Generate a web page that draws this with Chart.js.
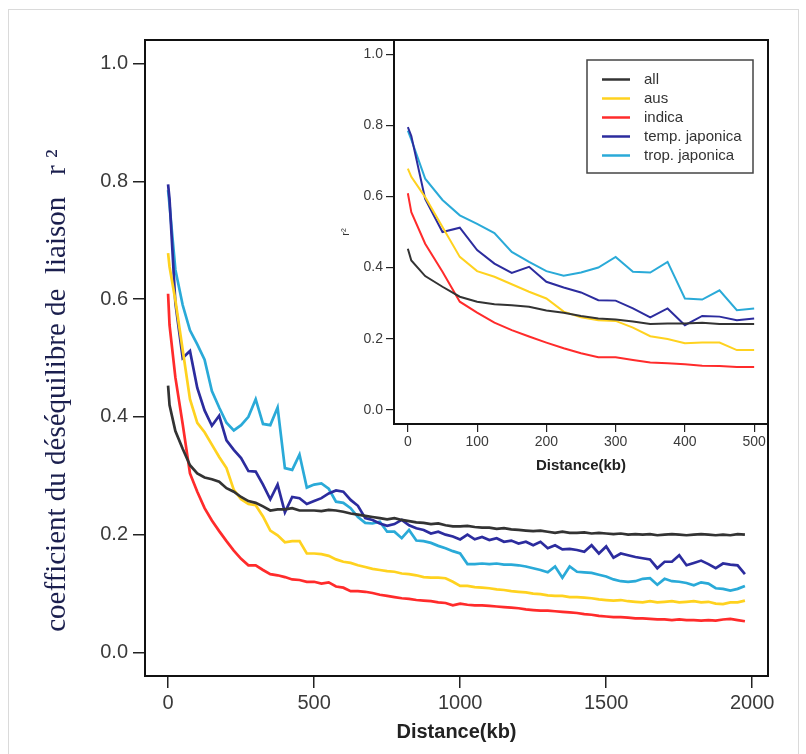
<!DOCTYPE html>
<html>
<head>
<meta charset="utf-8">
<title>LD decay</title>
<script src="https://cdn.jsdelivr.net/npm/chart.js@4.4.1/dist/chart.umd.min.js"></script>
<style>
  html, body { margin: 0; padding: 0; background: #fff; }
  #wrap { position: relative; width: 806px; height: 754px; overflow: hidden; }
  #frame { position: absolute; left: 8px; top: 9px; width: 789px; height: 800px; border: 1px solid #dadada; }
  #mainChart { position: absolute; left: 0; top: 0; }
  #insetChart { position: absolute; left: 330px; top: 20px; }
</style>
</head>
<body>
<div id="wrap">
  <div id="frame"></div>
  <canvas id="mainChart" width="806" height="754"></canvas>
  <canvas id="insetChart" width="450" height="465"></canvas>
</div>
<script>
// distance (kb) of each point
const distances = [0, 5, 25, 50, 75, 100, 125, 150, 175, 200, 225, 250, 275, 300, 325, 350, 375, 400, 425, 450, 475, 500,
  525, 550, 575, 600, 625, 650, 675, 700, 725, 750, 775, 800, 825, 850, 875, 900, 925, 950, 975, 1000,
  1025, 1050, 1075, 1100, 1125, 1150, 1175, 1200, 1225, 1250, 1275, 1300, 1325, 1350, 1375, 1400, 1425, 1450, 1475, 1500,
  1525, 1550, 1575, 1600, 1625, 1650, 1675, 1700, 1725, 1750, 1775, 1800, 1825, 1850, 1875, 1900, 1925, 1950, 1975];

const allR2 = [0.453, 0.420, 0.376, 0.346, 0.318, 0.304, 0.297, 0.294, 0.290, 0.279, 0.273, 0.264, 0.257, 0.254, 0.248, 0.241, 0.243, 0.243, 0.245, 0.241, 0.241, 0.241,
  0.240, 0.242, 0.241, 0.239, 0.236, 0.234, 0.232, 0.230, 0.228, 0.226, 0.228, 0.225, 0.223, 0.221, 0.220, 0.218, 0.219, 0.216, 0.214, 0.214,
  0.215, 0.213, 0.212, 0.212, 0.210, 0.211, 0.209, 0.208, 0.207, 0.206, 0.207, 0.205, 0.203, 0.205, 0.203, 0.203, 0.204, 0.202, 0.203, 0.202,
  0.201, 0.202, 0.200, 0.201, 0.200, 0.201, 0.199, 0.200, 0.201, 0.200, 0.199, 0.200, 0.201, 0.200, 0.199, 0.200, 0.199, 0.201, 0.200];

const ausR2 = [0.678, 0.655, 0.598, 0.514, 0.430, 0.390, 0.374, 0.353, 0.332, 0.313, 0.276, 0.260, 0.252, 0.250, 0.231, 0.207, 0.199, 0.187, 0.189, 0.189, 0.168, 0.168,
  0.167, 0.164, 0.158, 0.154, 0.152, 0.148, 0.145, 0.142, 0.140, 0.138, 0.137, 0.134, 0.133, 0.131, 0.128, 0.127, 0.127, 0.126, 0.120, 0.113,
  0.113, 0.111, 0.110, 0.109, 0.107, 0.106, 0.104, 0.103, 0.102, 0.100, 0.099, 0.097, 0.096, 0.096, 0.094, 0.094, 0.093, 0.092, 0.090, 0.089,
  0.088, 0.089, 0.087, 0.086, 0.085, 0.087, 0.085, 0.086, 0.087, 0.085, 0.086, 0.087, 0.085, 0.086, 0.083, 0.082, 0.085, 0.085, 0.088];

const indicaR2 = [0.609, 0.556, 0.467, 0.388, 0.304, 0.273, 0.245, 0.224, 0.206, 0.189, 0.173, 0.159, 0.148, 0.148, 0.140, 0.133, 0.131, 0.128, 0.124, 0.123, 0.120, 0.120,
  0.117, 0.119, 0.112, 0.110, 0.104, 0.104, 0.103, 0.101, 0.098, 0.096, 0.094, 0.092, 0.091, 0.089, 0.088, 0.087, 0.085, 0.084, 0.080, 0.083,
  0.081, 0.080, 0.080, 0.079, 0.078, 0.077, 0.076, 0.075, 0.073, 0.072, 0.071, 0.071, 0.070, 0.069, 0.068, 0.067, 0.065, 0.064, 0.062, 0.061,
  0.060, 0.060, 0.059, 0.058, 0.058, 0.057, 0.056, 0.056, 0.055, 0.056, 0.055, 0.055, 0.054, 0.055, 0.054, 0.056, 0.057, 0.055, 0.053];

const tempJaponicaR2 = [0.795, 0.770, 0.593, 0.500, 0.512, 0.449, 0.411, 0.385, 0.402, 0.360, 0.344, 0.330, 0.308, 0.307, 0.285, 0.260, 0.285, 0.238, 0.264, 0.262, 0.252, 0.257,
  0.262, 0.270, 0.275, 0.273, 0.259, 0.249, 0.228, 0.225, 0.219, 0.215, 0.218, 0.225, 0.216, 0.211, 0.208, 0.202, 0.205, 0.200, 0.197, 0.192,
  0.200, 0.192, 0.196, 0.191, 0.194, 0.188, 0.190, 0.185, 0.188, 0.182, 0.188, 0.177, 0.182, 0.175, 0.176, 0.174, 0.171, 0.182, 0.168, 0.180,
  0.161, 0.168, 0.165, 0.162, 0.160, 0.158, 0.143, 0.154, 0.154, 0.165, 0.148, 0.152, 0.156, 0.150, 0.143, 0.151, 0.149, 0.148, 0.133];

const tropJaponicaR2 = [0.785, 0.760, 0.650, 0.590, 0.547, 0.523, 0.497, 0.444, 0.416, 0.390, 0.377, 0.386, 0.400, 0.430, 0.388, 0.386, 0.416, 0.313, 0.310, 0.336, 0.280, 0.285,
  0.287, 0.278, 0.256, 0.254, 0.245, 0.230, 0.220, 0.219, 0.222, 0.205, 0.205, 0.194, 0.208, 0.190, 0.189, 0.186, 0.181, 0.177, 0.172, 0.168,
  0.150, 0.150, 0.151, 0.150, 0.151, 0.149, 0.149, 0.148, 0.146, 0.143, 0.140, 0.136, 0.146, 0.127, 0.146, 0.137, 0.136, 0.135, 0.132, 0.129,
  0.124, 0.121, 0.120, 0.121, 0.125, 0.126, 0.115, 0.125, 0.121, 0.120, 0.118, 0.114, 0.119, 0.117, 0.109, 0.108, 0.105, 0.108, 0.113];

const seriesLabels = ['all', 'aus', 'indica', 'temp. japonica', 'trop. japonica'];
const seriesColors = ['#333333', '#ffd21f', '#ff2b2b', '#2c2c9e', '#2aaad8'];
const seriesValues = [allR2, ausR2, indicaR2, tempJaponicaR2, tropJaponicaR2];

const rTicks = [0, 0.2, 0.4, 0.6, 0.8, 1.0];
const mainDistTicks = [0, 500, 1000, 1500, 2000];
const insetDistTicks = [0, 100, 200, 300, 400, 500];
const insetMaxDist = 500;

const sans = '"Liberation Sans", Arial, Helvetica, sans-serif';
const serif = '"Liberation Serif", "Times New Roman", serif';

function buildDatasets(maxDist, width){
  return seriesValues.map((vals, i) => ({
    label: seriesLabels[i],
    data: distances.map((d, j) => ({ x: d, y: vals[j] })).filter(p => p.x <= maxDist),
    borderColor: seriesColors[i],
    backgroundColor: seriesColors[i],
    borderWidth: width,
    pointRadius: 0,
    tension: 0,
    fill: false
  }));
}

// full box round the plot area (R style), optional white backing for the inset
const boxPlugin = {
  id: 'box',
  beforeDraw(chart, args, opts){
    if(!opts.backing) return;
    const { ctx, chartArea: a } = chart;
    ctx.save();
    ctx.fillStyle = '#fff';
    ctx.fillRect(0, a.top + 2, a.right - 2, chart.height - a.top - 2);
    ctx.restore();
  },
  afterDraw(chart){
    const { ctx, chartArea: a } = chart;
    ctx.save();
    ctx.strokeStyle = '#111';
    ctx.lineWidth = 2;
    ctx.strokeRect(a.left, a.top, a.right - a.left, a.bottom - a.top);
    ctx.restore();
  }
};

// legend box inside the inset plot
const insetLegend = {
  id: 'insetLegend',
  afterDraw(chart){
    const { ctx, chartArea: a } = chart;
    const w = 166, h = 113;
    const x0 = a.right - 15 - w, y0 = a.top + 20;
    ctx.save();
    ctx.fillStyle = '#fff';
    ctx.fillRect(x0, y0, w, h);
    ctx.strokeStyle = '#444';
    ctx.lineWidth = 1.5;
    ctx.strokeRect(x0, y0, w, h);
    ctx.font = '15px ' + sans;
    ctx.textBaseline = 'middle';
    chart.data.datasets.forEach((ds, i) => {
      const y = y0 + 19.5 + i * 19;
      ctx.strokeStyle = ds.borderColor;
      ctx.lineWidth = 2.5;
      ctx.beginPath(); ctx.moveTo(x0 + 15, y); ctx.lineTo(x0 + 43, y); ctx.stroke();
      ctx.fillStyle = '#333';
      ctx.fillText(ds.label, x0 + 57, y);
    });
    ctx.restore();
  }
};

function fixedTicks(list){
  return (scale) => { scale.ticks = list.map(v => ({ value: v })); };
}

// Main chart
new Chart(document.getElementById('mainChart'), {
  type: 'line',
  data: { datasets: buildDatasets(Infinity, 2.7) },
  plugins: [boxPlugin],
  options: {
    responsive: false,
    animation: false,
    layout: { padding: { left: 0, top: 40, right: 38, bottom: 0 } },
    plugins: { legend: { display: false }, tooltip: { enabled: false }, box: {} },
    scales: {
      x: {
        type: 'linear', min: -79, max: 2054,
        afterBuildTicks: fixedTicks(mainDistTicks),
        afterFit: (s) => { s.height = 78; },
        border: { display: false },
        grid: { drawOnChartArea: false, drawTicks: true, tickLength: 12, tickColor: '#222', lineWidth: 1.5 },
        ticks: { font: { family: sans, size: 20 }, color: '#3a3a3a', padding: 3, maxRotation: 0, callback: (v) => String(v) },
        title: { display: true, text: 'Distance(kb)', font: { family: sans, size: 20, weight: 'bold' }, color: '#222', padding: { top: 0, bottom: 10 } }
      },
      y: {
        min: -0.04, max: 1.04,
        afterBuildTicks: fixedTicks(rTicks),
        afterFit: (s) => { s.width = 145; },
        border: { display: false },
        grid: { drawOnChartArea: false, drawTicks: true, tickLength: 12, tickColor: '#222', lineWidth: 1.5 },
        ticks: { font: { family: sans, size: 20 }, color: '#3a3a3a', padding: 5, callback: (v) => v.toFixed(1) },
        title: {
          display: true,
          text: 'coefficient du déséquilibre de  liaison   r \u00b2' + '\u00a0'.repeat(9),
          font: { family: serif, size: 29 }, color: '#1b1f4e',
          padding: { top: 40, bottom: 0 }
        }
      }
    }
  }
});

// Inset chart (zoom on 0-500 kb)
new Chart(document.getElementById('insetChart'), {
  type: 'line',
  data: { datasets: buildDatasets(insetMaxDist, 2) },
  plugins: [boxPlugin, insetLegend],
  options: {
    responsive: false,
    animation: false,
    layout: { padding: { left: 0, top: 20, right: 12, bottom: 0 } },
    plugins: { legend: { display: false }, tooltip: { enabled: false }, box: { backing: true } },
    scales: {
      x: {
        type: 'linear', min: -20, max: 520,
        afterBuildTicks: fixedTicks(insetDistTicks),
        afterFit: (s) => { s.height = 61; },
        border: { display: false },
        grid: { drawOnChartArea: false, drawTicks: true, tickLength: 8, tickColor: '#222', lineWidth: 1.2 },
        ticks: { font: { family: sans, size: 14 }, color: '#3a3a3a', padding: 2, maxRotation: 0, callback: (v) => String(v) },
        title: { display: true, text: 'Distance(kb)', font: { family: sans, size: 15, weight: 'bold' }, color: '#222', padding: { top: 0, bottom: 10 } }
      },
      y: {
        min: -0.04, max: 1.04,
        afterBuildTicks: fixedTicks(rTicks),
        afterFit: (s) => { s.width = 64; },
        border: { display: false },
        grid: { drawOnChartArea: false, drawTicks: true, tickLength: 8, tickColor: '#222', lineWidth: 1.2 },
        ticks: { font: { family: sans, size: 14 }, color: '#3a3a3a', padding: 3, callback: (v) => v.toFixed(1) },
        title: { display: true, text: 'r\u00b2', font: { family: sans, size: 11 }, color: '#333', padding: { top: 9, bottom: 0 } }
      }
    }
  }
});
</script>
</body>
</html>
